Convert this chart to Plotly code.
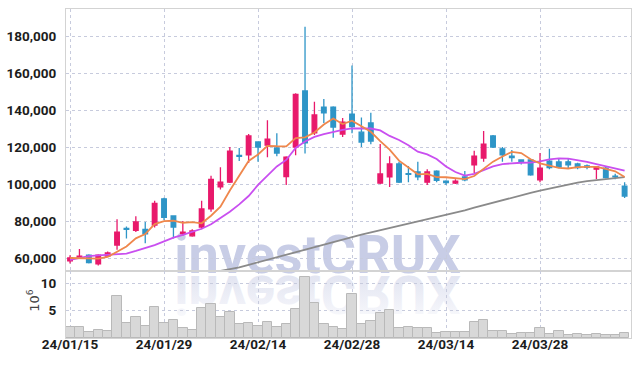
import plotly.graph_objects as go
from plotly.subplots import make_subplots

# ---------------- data ----------------
dates = ["24/01/15", "24/01/16", "24/01/17", "24/01/18", "24/01/19", "24/01/22", "24/01/23", "24/01/24",
         "24/01/25", "24/01/26", "24/01/29", "24/01/30", "24/01/31", "24/02/01", "24/02/02", "24/02/05",
         "24/02/06", "24/02/07", "24/02/08", "24/02/13", "24/02/14", "24/02/15", "24/02/16", "24/02/19",
         "24/02/20", "24/02/21", "24/02/22", "24/02/23", "24/02/26", "24/02/27", "24/02/28", "24/02/29",
         "24/03/04", "24/03/05", "24/03/06", "24/03/07", "24/03/08", "24/03/11", "24/03/12", "24/03/13",
         "24/03/14", "24/03/15", "24/03/18", "24/03/19", "24/03/20", "24/03/21", "24/03/22", "24/03/25",
         "24/03/26", "24/03/27", "24/03/28", "24/03/29", "24/04/01", "24/04/02", "24/04/03", "24/04/04",
         "24/04/05", "24/04/08", "24/04/09", "24/04/11"]

open_ = [58500, 60300, 61500, 56800, 61000, 67000, 76000, 75000, 75500, 77800,
         92000, 82700, 73200, 72000, 76700, 86500, 98400, 101000, 115500, 115700,
         122700, 121000, 119500, 104000, 120000, 150300, 127600, 141600, 141600, 127000,
         137800, 128000, 133000, 100500, 103800, 110800, 105600, 106500, 101000, 107000,
         101600, 100500, 103800, 110300, 114000, 126000, 119000, 115000, 113000, 113000,
         102200, 112400, 111900, 112000, 110800, 109800, 108000, 108600, 104200, 98900]
high = [61500, 64800, 62000, 62000, 63500, 81000, 77000, 82500, 79500, 91000,
        92500, 83000, 80000, 75500, 91000, 104500, 109000, 120000, 119500, 127000,
        123000, 134500, 127500, 115000, 149000, 185000, 144500, 146000, 142000, 135700,
        164000, 136000, 138500, 121600, 115000, 112000, 109700, 112000, 108000, 107500,
        102000, 102500, 107000, 118000, 128600, 126500, 120000, 118400, 113200, 113500,
        116700, 119000, 113500, 113500, 111500, 110500, 109600, 109500, 105500, 101000]
low = [57000, 60000, 57000, 56000, 60500, 64500, 70500, 74000, 68000, 76500,
       80500, 70500, 72000, 71500, 75500, 85000, 97000, 100500, 112500, 111300,
       112000, 114500, 115000, 99500, 115500, 116500, 126500, 133000, 125000, 125400,
       127500, 120000, 121500, 100000, 98400, 100500, 101000, 102000, 99500, 101000,
       99500, 100000, 101500, 106000, 112000, 119500, 112000, 112000, 110500, 104500,
       101000, 108000, 108500, 108600, 108000, 108000, 102700, 103000, 102500, 92400]
close = [60000, 61000, 57500, 61500, 62700, 74000, 75500, 79500, 73000, 89500,
         82000, 76700, 74000, 74600, 86500, 102500, 101000, 117800, 115000, 126000,
         120000, 124300, 116700, 114500, 148500, 122200, 137300, 138400, 130800, 133500,
         131000, 122700, 123200, 105400, 110800, 101000, 105200, 103800, 106500, 102000,
         100800, 101600, 102200, 115000, 121600, 120000, 115700, 114300, 112000, 105000,
         108600, 108800, 109200, 110300, 108800, 109000, 109200, 103500, 103800, 93500]

ma5 = [60000, 59800, 59500, 59700, 60540, 63340, 66240, 70640, 72940, 78300,
       79900, 80140, 79040, 79360, 78760, 82860, 87720, 96480, 104560, 112460,
       115960, 120620, 120400, 120300, 124800, 125240, 127840, 132180, 135440, 132440,
       134200, 131280, 128240, 123160, 118620, 112620, 109120, 105240, 105460, 103700,
       103660, 102940, 102620, 104320, 108240, 112080, 114900, 117320, 116720, 113400,
       111120, 109740, 108720, 108380, 109140, 109220, 109300, 108160, 106860, 103800]
ma10 = [59000, 60000, 61000, 61400, 61700, 62000, 62400, 63800, 65300, 67000,
        69000, 71000, 72500, 74000, 75800, 78200, 81500, 85000, 89000, 93500,
        99500, 104500, 109500, 113000, 119500, 123000, 125500, 127000, 128300, 129300,
        130100, 130200, 130000, 129000, 126000, 123800, 121000, 117500, 116000, 113500,
        109500, 106500, 104500, 105500, 107500, 109500, 110800, 111300, 111500, 111600,
        112200, 113300, 113900, 113700, 113000, 112000, 110800, 109600, 108400, 107200]
ma60 = [40000, 40700, 41400, 42100, 42800, 43500, 44300, 45100, 45900, 46700,
        47500, 48300, 49200, 50000, 50900, 51800, 52700, 53600, 54900, 56300,
        57700, 59000, 60500, 61800, 63200, 64500, 65800, 67100, 68500, 69900,
        71300, 72600, 73800, 75000, 76100, 77200, 78300, 79500, 80700, 81900,
        83200, 84500, 85800, 87200, 88600, 90000, 91300, 92600, 93900, 95200,
        96400, 97500, 98600, 99800, 100700, 101500, 102100, 102700, 103200, 103700]

volume = [2.0, 2.0, 1.05, 1.55, 1.25, 7.7, 2.7, 3.8, 2.2, 5.7,
          2.7, 3.3, 1.8, 1.4, 5.5, 6.2, 3.8, 4.75, 2.55, 2.7,
          2.2, 2.9, 2.0, 2.55, 5.3, 11.2, 6.4, 2.55, 2.1, 1.6,
          8.0, 2.55, 3.15, 4.6, 5.1, 1.85, 2.05, 1.85, 1.8, 0.9,
          1.1, 1.1, 1.1, 2.9, 3.3, 1.3, 1.3, 0.75, 0.9, 0.9,
          1.85, 0.75, 1.3, 0.6, 0.7, 0.6, 0.7, 0.6, 0.6, 0.9]   # x 10^6

price_ticks = [60000, 80000, 100000, 120000, 140000, 160000, 180000]
volume_ticks = [5, 10]
tick_dates = ["24/01/15", "24/01/29", "24/02/14", "24/02/28", "24/03/14", "24/03/28"]
watermark = "investCRUX"

# ---------------- styling ----------------
PINK = "#e8196b"
BLUE = "#2e95c7"
ORANGE = "#ef874c"
PURPLE = "#c94ff0"
GRAY = "#8a8a8a"
GRID = "#c7cbdd"
FRAME = "#d3d3d3"
TICKFONT = dict(family="Roboto, sans-serif", size=13.5, color="#1c1c1c", weight="bold")

fig = make_subplots(rows=2, cols=1, shared_xaxes=True, vertical_spacing=0,
                    row_heights=[262 / 329, 67 / 329])

fig.add_trace(go.Candlestick(
    x=dates, open=open_, high=high, low=low, close=close,
    increasing=dict(line=dict(color=PINK, width=1.3), fillcolor=PINK),
    decreasing=dict(line=dict(color=BLUE, width=1.3), fillcolor=BLUE),
    whiskerwidth=0, showlegend=False, hoverinfo="skip"), row=1, col=1)

fig.add_trace(go.Scatter(x=dates, y=ma60, mode="lines", line=dict(color=GRAY, width=1.8),
                         showlegend=False, hoverinfo="skip"), row=1, col=1)
fig.add_trace(go.Scatter(x=dates, y=ma10, mode="lines", line=dict(color=PURPLE, width=1.8),
                         showlegend=False, hoverinfo="skip"), row=1, col=1)
fig.add_trace(go.Scatter(x=dates, y=ma5, mode="lines", line=dict(color=ORANGE, width=1.8),
                         showlegend=False, hoverinfo="skip"), row=1, col=1)

fig.add_trace(go.Bar(x=dates, y=volume,
                     marker=dict(color="#d8d8d8", line=dict(color="#b9b9b9", width=1)),
                     showlegend=False, hoverinfo="skip"), row=2, col=1)

axis_common = dict(showline=True, mirror=True, linecolor=FRAME, linewidth=1,
                   showgrid=True, gridcolor=GRID, griddash="dot", gridwidth=1,
                   zeroline=False, ticks="", tickfont=TICKFONT, automargin=False)

xrange = [-0.43, 59.68]
fig.update_xaxes(type="category", range=xrange, tickvals=tick_dates, ticktext=tick_dates,
                 rangeslider=dict(visible=False), **axis_common)
fig.update_xaxes(showticklabels=False, row=1, col=1)
fig.update_xaxes(showticklabels=True, ticklabelstandoff=-6, row=2, col=1)

fig.update_yaxes(range=[52970, 194600], tickvals=price_ticks, tickformat=",",
                 ticklabelstandoff=6, row=1, col=1, **axis_common)
fig.update_yaxes(range=[0, 12.3], tickvals=volume_ticks, ticklabelstandoff=6,
                 row=2, col=1, **axis_common)

# watermark (drawn beneath the data) and its reflection
wm_font = dict(family="Roboto, Open Sans, sans-serif", size=54, weight="bold")
fig.add_shape(type="rect", xref="paper", yref="paper", x0=0.15, x1=0.74, y0=0.205, y1=0.327,
              line=dict(width=0), fillcolor="rgba(0,0,0,0)", layer="below",
              label=dict(text=watermark, textposition="middle center", textangle=0,
                         font=dict(color="#c8cde6", **wm_font)))
fig.add_shape(type="rect", xref="paper", yref="paper", x0=0.15, x1=0.74, y0=0.082, y1=0.204,
              line=dict(width=0), fillcolor="rgba(0,0,0,0)", layer="below",
              label=dict(text=watermark, textposition="middle center", textangle=0,
                         font=dict(color="#e2e5f1", **wm_font)))

fig.add_annotation(text="10<sup>6</sup>", xref="paper", yref="paper",
                   x=-0.076, y=0.072, textangle=-90, showarrow=False,
                   font=dict(family="DejaVu Sans, sans-serif", size=13, color="#444444"))

fig.update_layout(width=639, height=366, margin=dict(l=66, r=8, t=9, b=28, autoexpand=False),
                  paper_bgcolor="white", plot_bgcolor="white", bargap=0,
                  showlegend=False)

flip_js = """
(function(){
  var gd = document.getElementById('{plot_id}');
  var ts = Array.prototype.filter.call(gd.querySelectorAll('text'), function(t){
      return t.textContent === 'investCRUX'; });
  if (ts.length < 2) return;
  var t = ts[0], best = -1e9;
  ts.forEach(function(e){ var r = e.getBoundingClientRect(); var c = r.top + r.height / 2;
      if (c > best) { best = c; t = e; } });
  var b = t.getBBox();
  var cy = b.y + b.height / 2;
  t.setAttribute('transform', 'translate(0,' + (2 * cy) + ') scale(1,-1)');
  var ns = 'http://www.w3.org/2000/svg';
  var svg = t.ownerSVGElement;
  var defs = svg.querySelector('defs');
  if (!defs) { defs = document.createElementNS(ns, 'defs'); svg.insertBefore(defs, svg.firstChild); }
  var g = document.createElementNS(ns, 'linearGradient');
  g.setAttribute('id', 'wmfade'); g.setAttribute('x1', '0'); g.setAttribute('y1', '0');
  g.setAttribute('x2', '0'); g.setAttribute('y2', '1');
  [['0', '#ffffff'], ['0.3', '#f2f3f9'], ['1', '#dcdfee']].forEach(function(s){
      var st = document.createElementNS(ns, 'stop');
      st.setAttribute('offset', s[0]); st.setAttribute('stop-color', s[1]); g.appendChild(st); });
  defs.appendChild(g);
  t.style.fill = 'url(#wmfade)';
  Array.prototype.forEach.call(t.querySelectorAll('tspan'), function(s){ s.style.fill = 'url(#wmfade)'; });
})();
"""

fig.write_html("out.html", post_script=flip_js)
